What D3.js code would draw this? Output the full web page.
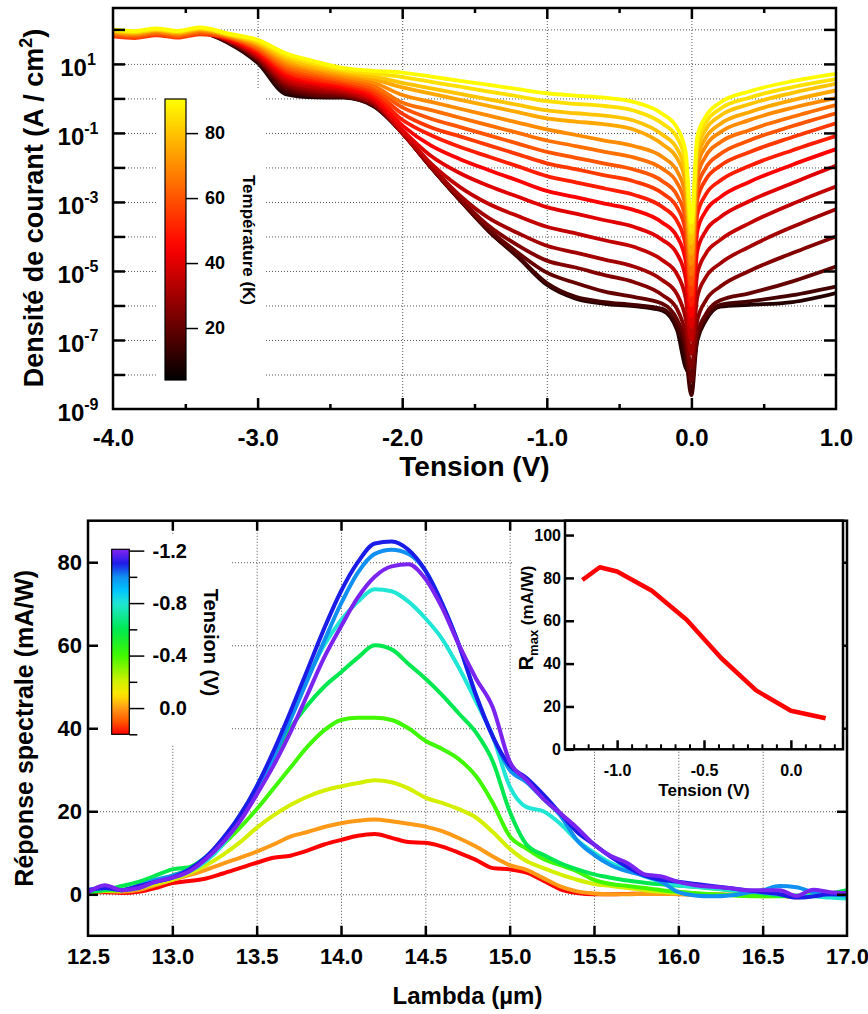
<!DOCTYPE html>
<html><head><meta charset="utf-8">
<script src="https://cdn.jsdelivr.net/npm/d3@7"></script>
<style>body{margin:0;background:#fff}svg{display:block}</style>
</head><body><svg id="chart" width="868" height="1014"></svg>
<script>
// ================= DATA : top panel (log10 of current density, A/cm2) =================
const voltages = [-4.0, -3.85, -3.7, -3.55, -3.4, -3.2, -3.0, -2.8, -2.6, -2.4, -2.2, -2.0, -1.8, -1.6, -1.4, -1.2, -1.0, -0.8, -0.6, -0.4, -0.2, -0.1, -0.04, 0, 0.04, 0.1, 0.2, 0.4, 0.7, 1.0];
const temperatures = [10, 15, 20, 25, 30, 35, 40, 45, 50, 55, 60, 65, 70, 75, 80, 85, 90];
const logJ_10 = [1.85, 1.80, 1.88, 1.81, 1.91, 1.60, 1.03, 0.12, 0.03, 0.02, -0.22, -1.00, -2.00, -2.95, -3.85, -4.60, -5.40, -5.80, -5.95, -6.02, -6.15, -6.70, -7.80, -8.0, -7.03, -6.43, -6.03, -5.98, -5.90, -5.64];
const logJ_15 = [1.85, 1.80, 1.88, 1.81, 1.91, 1.62, 1.08, 0.21, 0.07, 0.04, -0.21, -1.00, -2.00, -2.95, -3.85, -4.58, -5.35, -5.75, -5.90, -5.98, -6.10, -6.60, -7.40, -8.6, -6.98, -6.38, -5.98, -5.88, -5.70, -5.45];
const logJ_20 = [1.85, 1.80, 1.88, 1.81, 1.91, 1.64, 1.12, 0.30, 0.11, 0.06, -0.19, -1.00, -2.00, -2.95, -3.80, -4.47, -5.05, -5.35, -5.60, -5.75, -5.95, -6.40, -7.10, -8.2, -6.85, -6.25, -5.85, -5.65, -5.30, -4.87];
const logJ_25 = [1.85, 1.80, 1.88, 1.81, 1.91, 1.65, 1.16, 0.38, 0.18, 0.10, -0.16, -1.00, -2.00, -2.91, -3.70, -4.26, -4.70, -4.90, -5.12, -5.32, -5.70, -6.10, -6.80, -7.8, -6.45, -5.85, -5.45, -5.00, -4.48, -4.00];
const logJ_30 = [1.85, 1.80, 1.88, 1.81, 1.91, 1.67, 1.20, 0.45, 0.25, 0.15, -0.12, -1.00, -1.97, -2.82, -3.47, -3.90, -4.27, -4.47, -4.67, -4.87, -5.27, -5.67, -6.37, -7.4, -5.78, -5.18, -4.78, -4.30, -3.72, -3.21];
const logJ_35 = [1.85, 1.80, 1.88, 1.81, 1.91, 1.69, 1.24, 0.52, 0.32, 0.20, -0.07, -0.97, -1.89, -2.57, -3.06, -3.41, -3.72, -3.91, -4.11, -4.30, -4.69, -5.09, -5.79, -7.0, -5.10, -4.50, -4.10, -3.62, -3.05, -2.55];
const logJ_40 = [1.85, 1.80, 1.88, 1.81, 1.91, 1.70, 1.28, 0.60, 0.39, 0.26, -0.02, -0.91, -1.67, -2.17, -2.54, -2.85, -3.15, -3.34, -3.53, -3.72, -4.10, -4.50, -5.20, -6.6, -4.44, -3.84, -3.44, -2.98, -2.45, -1.95];
const logJ_45 = [1.85, 1.80, 1.88, 1.81, 1.91, 1.72, 1.33, 0.67, 0.46, 0.32, 0.05, -0.78, -1.37, -1.76, -2.08, -2.38, -2.68, -2.86, -3.05, -3.23, -3.60, -4.00, -4.70, -6.3, -3.86, -3.26, -2.86, -2.42, -1.92, -1.47];
const logJ_50 = [1.85, 1.80, 1.88, 1.81, 1.91, 1.74, 1.37, 0.74, 0.52, 0.38, 0.12, -0.62, -1.07, -1.41, -1.69, -1.97, -2.25, -2.43, -2.61, -2.79, -3.15, -3.55, -4.25, -6.0, -3.38, -2.78, -2.38, -1.96, -1.50, -1.09];
const logJ_55 = [1.80, 1.75, 1.83, 1.76, 1.86, 1.76, 1.41, 0.81, 0.59, 0.44, 0.20, -0.44, -0.84, -1.10, -1.36, -1.62, -1.88, -2.05, -2.23, -2.40, -2.75, -3.15, -3.85, -5.7, -2.95, -2.35, -1.95, -1.56, -1.12, -0.72];
const logJ_60 = [1.84, 1.79, 1.87, 1.80, 1.90, 1.77, 1.45, 0.88, 0.66, 0.50, 0.28, -0.26, -0.59, -0.83, -1.07, -1.31, -1.55, -1.72, -1.89, -2.06, -2.40, -2.80, -3.50, -5.4, -2.61, -2.01, -1.61, -1.22, -0.80, -0.43];
const logJ_65 = [1.88, 1.83, 1.91, 1.84, 1.94, 1.79, 1.49, 0.95, 0.73, 0.56, 0.37, -0.12, -0.34, -0.56, -0.78, -1.00, -1.22, -1.38, -1.55, -1.71, -2.04, -2.44, -3.14, -5.1, -2.27, -1.67, -1.27, -0.92, -0.53, -0.19];
const logJ_70 = [1.91, 1.86, 1.94, 1.87, 1.97, 1.81, 1.54, 1.02, 0.80, 0.63, 0.46, 0.10, -0.10, -0.30, -0.50, -0.70, -0.90, -1.06, -1.22, -1.38, -1.70, -2.10, -2.80, -4.8, -1.98, -1.38, -0.98, -0.63, -0.27, 0.01];
const logJ_75 = [1.94, 1.89, 1.97, 1.90, 2.00, 1.83, 1.58, 1.09, 0.86, 0.70, 0.55, 0.32, 0.14, -0.04, -0.22, -0.40, -0.58, -0.67, -0.75, -0.90, -1.33, -1.73, -2.43, -4.5, -1.74, -1.14, -0.74, -0.40, -0.05, 0.23];
const logJ_80 = [1.96, 1.91, 1.99, 1.92, 2.02, 1.84, 1.62, 1.16, 0.93, 0.76, 0.63, 0.45, 0.29, 0.13, -0.03, -0.19, -0.35, -0.43, -0.50, -0.64, -1.05, -1.45, -2.15, -4.2, -1.50, -0.90, -0.50, -0.17, 0.16, 0.42];
const logJ_85 = [1.98, 1.93, 2.01, 1.94, 2.04, 1.86, 1.66, 1.23, 1.00, 0.82, 0.72, 0.62, 0.48, 0.34, 0.20, 0.06, -0.08, -0.16, -0.22, -0.35, -0.73, -1.13, -1.83, -3.9, -1.30, -0.70, -0.30, 0.02, 0.33, 0.56];
const logJ_90 = [2.00, 1.95, 2.03, 1.96, 2.06, 1.88, 1.70, 1.30, 1.07, 0.88, 0.80, 0.75, 0.63, 0.51, 0.39, 0.27, 0.15, 0.08, 0.02, -0.10, -0.45, -0.85, -1.55, -3.6, -1.12, -0.52, -0.12, 0.20, 0.50, 0.71];
const seriesJ = [logJ_10, logJ_15, logJ_20, logJ_25, logJ_30, logJ_35, logJ_40, logJ_45, logJ_50, logJ_55, logJ_60, logJ_65, logJ_70, logJ_75, logJ_80, logJ_85, logJ_90];
const topXTicks = [-4, -3, -2, -1, 0, 1];
const topYLabelExp = [1, -1, -3, -5, -7, -9];
const tempTicks = [20, 40, 60, 80];

// ================= DATA : bottom panel (spectral response, mA/W) =================
const lambda = [12.5,12.6,12.7,12.8,12.9,13.0,13.1,13.2,13.3,13.4,13.5,13.6,13.7,13.8,13.9,14.0,14.1,14.2,14.3,14.4,14.5,14.6,14.7,14.8,14.9,15.0,15.1,15.2,15.3,15.4,15.5,15.6,15.7,15.8,15.9,16.0,16.1,16.2,16.3,16.4,16.5,16.6,16.7,16.8,16.9,17.0];
const tensions = [0.2, 0.0, -0.2, -0.4, -0.6, -0.8, -1.0, -1.1, -1.2];
const resp_p02 = [0.5,0.5,0.3,0.6,1.5,2.7,3.2,3.8,5.0,6.3, 7.6,8.8,9.3,10.5,12.0,13.1,14.1,14.5,13.6,12.6, 12.4,11.5,10.0,8.3,6.3,6.0,5.2,3.3,1.2,0.3, 0.0,0.0,0.1,0.2,0.2,0.1,0.0,0.0,-0.1,-0.1, -0.2,-0.3,-0.7,-0.4,-0.2,0.0];
const resp_000 = [0.6,0.8,0.6,1.0,2.2,3.5,4.6,5.9,7.4,8.8, 10.3,12.0,13.9,15.0,16.2,17.1,17.7,18.0,17.6,17.0, 16.3,15.2,13.5,11.5,9.1,7.0,5.9,3.9,1.9,0.7, 0.2,0.0,0.0,0.1,0.1,0.0,-0.1,-0.1,-0.2,-0.2, -0.3,-0.4,-0.5,-0.3,-0.2,-0.1];
const resp_m02 = [0.5,0.8,1.0,1.5,2.5,3.5,5.0,7.0,9.5,12.5, 16.0,19.0,21.5,23.5,25.0,26.0,26.8,27.5,27.0,25.5, 23.3,22.0,20.5,18.5,15.0,11.0,8.0,6.3,4.8,3.5, 2.5,2.0,1.5,1.0,0.6,0.3,0.1,0.0,-0.1,-0.3, -0.5,-0.4,-0.3,-0.2,-0.1,0.0];
const resp_m04 = [1.0,1.0,1.0,2.0,3.0,4.5,6.0,8.5,12.0,16.0, 20.5,25.5,30.5,35.5,39.5,42.0,42.5,42.5,42.0,40.0, 37.0,35.0,32.5,28.5,22.0,14.0,11.0,8.5,7.0,5.5, 3.5,2.5,2.0,1.5,1.0,0.6,0.3,0.0,-0.2,-0.4, -0.5,-0.5,-0.4,-0.2,0.0,0.3];
const resp_m06 = [0.5,1.0,2.0,3.0,4.5,6.0,6.5,9.0,13.0,19.0, 25.5,33.0,40.0,45.5,50.0,53.5,57.0,60.0,59.0,55.5, 52.0,48.0,43.5,39.0,32.0,20.0,12.0,9.5,7.5,6.0, 4.8,4.0,3.3,2.8,2.4,2.1,1.8,1.4,1.0,0.6, 0.2,-0.3,-0.5,-0.3,0.2,1.0];
const resp_m08 = [1.0,1.5,1.0,1.5,3.0,4.0,5.5,8.0,12.0,18.0, 26.0,34.0,43.0,52.0,60.0,66.0,70.5,73.5,73.0,70.5, 66.5,61.5,54.5,46.5,38.0,26.0,21.0,20.0,17.0,13.0, 10.0,7.5,6.0,4.3,3.0,2.2,1.8,1.5,1.1,0.8, 0.4,0.0,-0.3,-0.5,-0.8,-1.0];
const resp_m10 = [1.0,1.5,1.0,2.0,3.5,4.5,6.0,9.0,13.0,18.5, 25.0,33.0,42.0,51.5,61.0,70.0,77.5,82.0,83.0,82.0, 78.0,70.0,60.0,48.0,38.0,30.0,27.0,23.0,19.0,13.0, 9.5,7.0,5.5,4.5,3.0,0.5,-0.3,-0.5,-0.3,0.3, 1.0,2.0,1.7,0.5,0.0,-0.3];
const resp_m11 = [1.0,1.5,1.0,2.0,3.0,4.0,6.0,9.0,13.5,19.0, 26.0,34.5,44.0,54.0,64.0,73.0,80.0,84.5,85.0,83.0, 78.0,70.0,60.0,48.0,38.0,31.0,28.0,24.0,19.5,15.0, 12.0,9.0,6.5,4.5,3.5,3.0,2.5,2.0,1.5,1.0, 0.5,0.0,-0.8,-0.5,0.0,0.0];
const resp_m12 = [0.5,2.2,1.0,1.5,3.0,4.0,5.5,8.5,12.5,17.5, 24.0,31.0,39.0,48.0,57.0,64.5,71.5,76.5,79.0,79.5, 76.0,69.0,60.0,52.0,45.0,32.0,27.5,23.0,19.5,16.0, 12.0,9.2,7.5,4.8,4.3,3.0,2.2,1.8,1.5,1.0, 1.0,1.0,-0.4,1.1,0.5,0.3];
const seriesR = [resp_p02, resp_000, resp_m02, resp_m04, resp_m06, resp_m08, resp_m10, resp_m11, resp_m12];
const lambdaTicks = [12.5,13.0,13.5,14.0,14.5,15.0,15.5,16.0,16.5,17.0];
const respTicks = [0, 20, 40, 60, 80];
const tensionMajor = [-1.2, -0.8, -0.4, 0.0];
const tensionMinor = [-1.0, -0.6, -0.2, 0.2];

// inset
const insetTension = [-1.2, -1.1, -1.0, -0.8, -0.6, -0.4, -0.2, 0.0, 0.2];
const insetRmax = [79, 85, 83, 74, 60.5, 42.5, 27.5, 18, 14.5];
const insetYTicks = [0, 20, 40, 60, 80, 100];
const insetXMajor = [-1.0, -0.5, 0.0];
const insetXMinor = [-1.25, -1.1667, -1.0833, -0.9167, -0.8333, -0.75, -0.6667, -0.5833, -0.4167, -0.3333, -0.25, -0.1667, -0.0833, 0.0833, 0.1667, 0.25];

// ================= DRAWING =================
const FONT = "'Liberation Sans', Arial, Helvetica, sans-serif";
const svg = d3.select("#chart");
svg.append("rect").attr("width", 868).attr("height", 1014).attr("fill", "#fff");
const defs = svg.append("defs");

function dotted(sel) { sel.attr("stroke", "#555").attr("stroke-width", 1).attr("stroke-dasharray", "1,2"); }
function tickStyle(g, w) { g.select(".domain").remove(); g.selectAll("line").attr("stroke", "#000").attr("stroke-width", w || 2.5); }
function labelStyle(g, size) { g.select(".domain").remove(); g.attr("font-family", FONT).attr("font-size", size).attr("font-weight", "bold"); g.selectAll("text").attr("fill", "#000"); }
const fmt1 = d => d.toFixed(1);

// ---------- TOP PANEL ----------
const TP = {l: 113, r: 836, t: 8, b: 409};
const xT = d3.scaleLinear().domain([-4, 1]).range([TP.l, TP.r]);
const yT = d3.scaleLog().domain([1e-9, Math.pow(10, 2.62)]).range([TP.b, TP.t]);
const hot = d3.scaleLinear().domain([4, 45, 90.5]).range(["#000000", "#ff0000", "#ffff00"]).clamp(true);
const gT = svg.append("g");
const decades = [-8, -7, -6, -5, -4, -3, -2, -1, 0, 1, 2].map(e => Math.pow(10, e));

gT.append("g").attr("transform", `translate(0,${TP.b})`)
  .call(d3.axisBottom(xT).tickValues([-3, -2, -1, 0]).tickSize(-(TP.b - TP.t)).tickFormat(""))
  .call(g => { g.select(".domain").remove(); g.selectAll("line").call(dotted); });
gT.append("g").attr("transform", `translate(${TP.l},0)`)
  .call(d3.axisLeft(yT).tickValues(decades).tickSize(-(TP.r - TP.l)).tickFormat(""))
  .call(g => { g.select(".domain").remove(); g.selectAll("line").call(dotted); });
// white box behind colour bar
gT.append("rect").attr("x", 158).attr("y", 88).attr("width", 108).attr("height", 309).attr("fill", "#fff");

defs.append("clipPath").attr("id", "clipT").append("rect")
  .attr("x", TP.l).attr("y", TP.t).attr("width", TP.r - TP.l).attr("height", TP.b - TP.t);
const lineT = d3.line().x((d, i) => xT(voltages[i])).y(d => yT(Math.pow(10, d))).curve(d3.curveMonotoneX);
gT.append("g").attr("clip-path", "url(#clipT)").selectAll("path").data(seriesJ).join("path")
  .attr("d", lineT).attr("fill", "none").attr("stroke", (d, i) => hot(temperatures[i]))
  .attr("stroke-width", 3.8).attr("stroke-linejoin", "round").attr("stroke-linecap", "round");

// ticks
gT.append("g").attr("transform", `translate(0,${TP.b})`).call(d3.axisBottom(xT).tickValues([-3, -2, -1, 0]).tickSize(-11).tickFormat("")).call(tickStyle);
gT.append("g").attr("transform", `translate(0,${TP.b})`).call(d3.axisBottom(xT).tickValues([-3.5, -2.5, -1.5, -0.5, 0.5]).tickSize(-5).tickFormat("")).call(tickStyle);
gT.append("g").attr("transform", `translate(0,${TP.t})`).call(d3.axisTop(xT).tickValues([-3, -2, -1, 0]).tickSize(-11).tickFormat("")).call(tickStyle);
gT.append("g").attr("transform", `translate(0,${TP.t})`).call(d3.axisTop(xT).tickValues([-3.5, -2.5, -1.5, -0.5, 0.5]).tickSize(-5).tickFormat("")).call(tickStyle);
gT.append("g").attr("transform", `translate(${TP.l},0)`).call(d3.axisLeft(yT).tickValues(decades).tickSize(-12).tickFormat("")).call(tickStyle);
gT.append("g").attr("transform", `translate(${TP.r},0)`).call(d3.axisRight(yT).tickValues(decades).tickSize(-12).tickFormat("")).call(tickStyle);
gT.append("rect").attr("x", TP.l).attr("y", TP.t).attr("width", TP.r - TP.l).attr("height", TP.b - TP.t)
  .attr("fill", "none").attr("stroke", "#000").attr("stroke-width", 2.5);

// labels
gT.append("g").attr("transform", `translate(0,${TP.b})`)
  .call(d3.axisBottom(xT).tickValues(topXTicks).tickSize(0).tickPadding(20).tickFormat(fmt1))
  .call(g => labelStyle(g, 24));
gT.append("g").selectAll("text").data(topYLabelExp).join("text")
  .attr("x", 78).attr("y", e => yT(Math.pow(10, e)) + 12).attr("text-anchor", "middle")
  .attr("font-family", FONT).attr("font-weight", "bold").attr("font-size", 24)
  .each(function (e) {
    const t = d3.select(this);
    t.append("tspan").text("10");
    t.append("tspan").attr("dy", -11).attr("font-size", 16).text(String(e));
  });
const yTitle = gT.append("text").attr("transform", "translate(43,208) rotate(-90)").attr("text-anchor", "middle")
  .attr("font-family", FONT).attr("font-weight", "bold").attr("font-size", 27);
yTitle.append("tspan").text("Densité de courant (A / cm");
yTitle.append("tspan").attr("dy", -11).attr("font-size", 18).text("2");
yTitle.append("tspan").attr("dy", 11).text(")");
gT.append("text").attr("x", (TP.l + TP.r) / 2).attr("y", 476).attr("text-anchor", "middle")
  .attr("font-family", FONT).attr("font-weight", "bold").attr("font-size", 28).text("Tension (V)");

// colour bar (temperature)
const yCBt = d3.scaleLinear().domain([4, 90.5]).range([380, 99]);
const gradT = defs.append("linearGradient").attr("id", "gradHot").attr("x1", 0).attr("y1", 1).attr("x2", 0).attr("y2", 0);
d3.range(0, 1.0001, 0.05).forEach(o => gradT.append("stop").attr("offset", o).attr("stop-color", hot(4 + o * 86.5)));
gT.append("rect").attr("x", 165).attr("y", 99).attr("width", 21).attr("height", 281)
  .attr("fill", "url(#gradHot)").attr("stroke", "#000").attr("stroke-width", 1.2);
gT.append("g").attr("transform", "translate(186,0)")
  .call(d3.axisRight(yCBt).tickValues(tempTicks).tickSize(12).tickPadding(7))
  .call(g => { labelStyle(g, 18); g.selectAll("line").attr("stroke", "#000").attr("stroke-width", 1.5); });
gT.append("text").attr("transform", "translate(243,240) rotate(90)").attr("text-anchor", "middle")
  .attr("font-family", FONT).attr("font-weight", "bold").attr("font-size", 17).text("Température (K)");

// ---------- BOTTOM PANEL ----------
const BP = {l: 88, r: 847, t: 520.7, b: 935.8};
const xB = d3.scaleLinear().domain([12.5, 17]).range([BP.l, BP.r]);
const yB = d3.scaleLinear().domain([-10, 90]).range([BP.b, BP.t]);
const rb = d3.scaleLinear()
  .domain([0.2, 0.1, 0.0, -0.1, -0.2, -0.4, -0.6, -0.8, -0.9, -1.0, -1.1, -1.21])
  .range(["#ff0000", "#ff5a00", "#ff9a18", "#ffe600", "#d4f000", "#40f800", "#00e850", "#20e6d6", "#00c4ff", "#1090f0", "#1c1ce8", "#8424f0"]);
const gB = svg.append("g");
const innerL = [13.0, 13.5, 14.0, 14.5, 15.0, 15.5, 16.0, 16.5];

gB.append("g").attr("transform", `translate(0,${BP.b})`)
  .call(d3.axisBottom(xB).tickValues(innerL).tickSize(-(BP.b - BP.t)).tickFormat(""))
  .call(g => { g.select(".domain").remove(); g.selectAll("line").call(dotted); });
gB.append("g").attr("transform", `translate(${BP.l},0)`)
  .call(d3.axisLeft(yB).tickValues(respTicks).tickSize(-(BP.r - BP.l)).tickFormat(""))
  .call(g => { g.select(".domain").remove(); g.selectAll("line").call(dotted); });
gB.append("rect").attr("x", 95).attr("y", 535).attr("width", 135).attr("height", 210).attr("fill", "#fff");

defs.append("clipPath").attr("id", "clipB").append("rect")
  .attr("x", BP.l).attr("y", BP.t).attr("width", BP.r - BP.l).attr("height", BP.b - BP.t);
const lineB = d3.line().x((d, i) => xB(lambda[i])).y(d => yB(d)).curve(d3.curveMonotoneX);
gB.append("g").attr("clip-path", "url(#clipB)").selectAll("path").data(seriesR).join("path")
  .attr("d", lineB).attr("fill", "none").attr("stroke", (d, i) => rb(tensions[i]))
  .attr("stroke-width", 4).attr("stroke-linejoin", "round").attr("stroke-linecap", "round");

gB.append("g").attr("transform", `translate(0,${BP.b})`).call(d3.axisBottom(xB).tickValues(innerL).tickSize(-10).tickFormat("")).call(tickStyle);
gB.append("g").attr("transform", `translate(0,${BP.t})`).call(d3.axisTop(xB).tickValues(innerL).tickSize(-10).tickFormat("")).call(tickStyle);
gB.append("g").attr("transform", `translate(${BP.l},0)`).call(d3.axisLeft(yB).tickValues(respTicks).tickSize(-10).tickFormat("")).call(tickStyle);
gB.append("g").attr("transform", `translate(${BP.r},0)`).call(d3.axisRight(yB).tickValues(respTicks).tickSize(-10).tickFormat("")).call(tickStyle);
gB.append("rect").attr("x", BP.l).attr("y", BP.t).attr("width", BP.r - BP.l).attr("height", BP.b - BP.t)
  .attr("fill", "none").attr("stroke", "#000").attr("stroke-width", 2.5);

gB.append("g").attr("transform", `translate(0,${BP.b})`)
  .call(d3.axisBottom(xB).tickValues(lambdaTicks).tickSize(0).tickPadding(13).tickFormat(fmt1))
  .call(g => labelStyle(g, 22));
gB.append("g").attr("transform", `translate(${BP.l},0)`)
  .call(d3.axisLeft(yB).tickValues(respTicks).tickSize(0).tickPadding(6))
  .call(g => labelStyle(g, 22));
gB.append("text").attr("x", (BP.l + BP.r) / 2).attr("y", 1004).attr("text-anchor", "middle")
  .attr("font-family", FONT).attr("font-weight", "bold").attr("font-size", 24).text("Lambda (µm)");
gB.append("text").attr("transform", `translate(33,${(BP.t + BP.b) / 2}) rotate(-90)`).attr("text-anchor", "middle")
  .attr("font-family", FONT).attr("font-weight", "bold").attr("font-size", 25).text("Réponse spectrale (mA/W)");

// ---------- INSET ----------
const IP = {l: 565, r: 843, t: 520.7, b: 749.3};
const xI = d3.scaleLinear().domain([-1.3, 0.3]).range([IP.l, IP.r]);
const yI = d3.scaleLinear().domain([0, 106.7]).range([IP.b, IP.t]);
const gI = svg.append("g");
gI.append("rect").attr("x", 512).attr("y", 522).attr("width", IP.r - 512).attr("height", 220).attr("fill", "#fff");
gI.append("rect").attr("x", IP.l).attr("y", IP.t).attr("width", IP.r - IP.l).attr("height", IP.b - IP.t).attr("fill", "#fff");
gI.append("path").datum(insetRmax)
  .attr("d", d3.line().x((d, i) => xI(insetTension[i])).y(d => yI(d)))
  .attr("fill", "none").attr("stroke", "#ff0000").attr("stroke-width", 4.5).attr("stroke-linejoin", "round");
gI.append("g").attr("transform", `translate(${IP.l},0)`).call(d3.axisLeft(yI).tickValues(insetYTicks).tickSize(-9).tickFormat("")).call(tickStyle);
gI.append("g").attr("transform", `translate(0,${IP.b})`).call(d3.axisBottom(xI).tickValues(insetXMajor).tickSize(-9).tickFormat("")).call(tickStyle);
gI.append("g").attr("transform", `translate(0,${IP.b})`).call(d3.axisBottom(xI).tickValues(insetXMinor).tickSize(-5).tickFormat("")).call(g => tickStyle(g, 2));
gI.append("rect").attr("x", IP.l).attr("y", IP.t).attr("width", IP.r - IP.l).attr("height", IP.b - IP.t)
  .attr("fill", "none").attr("stroke", "#000").attr("stroke-width", 2.5);
gI.append("g").attr("transform", `translate(${IP.l},0)`)
  .call(d3.axisLeft(yI).tickValues(insetYTicks).tickSize(0).tickPadding(4))
  .call(g => labelStyle(g, 16));
gI.append("g").attr("transform", `translate(0,${IP.b})`)
  .call(d3.axisBottom(xI).tickValues(insetXMajor).tickSize(0).tickPadding(15).tickFormat(fmt1))
  .call(g => labelStyle(g, 16));
gI.append("text").attr("x", (IP.l + IP.r) / 2).attr("y", 796).attr("text-anchor", "middle")
  .attr("font-family", FONT).attr("font-weight", "bold").attr("font-size", 17).text("Tension (V)");
const rl = gI.append("text").attr("transform", "translate(533,618) rotate(-90)").attr("text-anchor", "middle")
  .attr("font-family", FONT).attr("font-weight", "bold").attr("font-size", 20);
rl.append("tspan").text("R");
rl.append("tspan").attr("dy", 5).attr("font-size", 13).text("max");
rl.append("tspan").attr("dy", -5).attr("font-size", 17).text(" (mA/W)");

// ---------- colour bar (tension) ----------
const yCB = d3.scaleLinear().domain([0.2, -1.21]).range([734.3, 549.3]);
const gradB = defs.append("linearGradient").attr("id", "gradRb").attr("x1", 0).attr("y1", 1).attr("x2", 0).attr("y2", 0);
d3.range(0, 1.0001, 0.025).forEach(o => gradB.append("stop").attr("offset", o).attr("stop-color", rb(0.2 - o * 1.41)));
gB.append("rect").attr("x", 111.7).attr("y", 549.3).attr("width", 17.6).attr("height", 185)
  .attr("fill", "url(#gradRb)").attr("stroke", "#000").attr("stroke-width", 1.2);
gB.append("g").attr("transform", "translate(129.3,0)")
  .call(d3.axisRight(yCB).tickValues(tensionMajor).tickSize(15).tickFormat(fmt1))
  .call(g => { labelStyle(g, 20); g.selectAll("line").attr("stroke", "#000").attr("stroke-width", 1.5);
               g.selectAll("text").attr("x", 57.7).attr("text-anchor", "end"); });
gB.append("g").attr("transform", "translate(129.3,0)")
  .call(d3.axisRight(yCB).tickValues(tensionMinor).tickSize(8).tickFormat(""))
  .call(g => tickStyle(g, 1.5));
gB.append("text").attr("transform", "translate(204,642.5) rotate(90)").attr("text-anchor", "middle")
  .attr("font-family", FONT).attr("font-weight", "bold").attr("font-size", 20).text("Tension (V)");
</script></body></html>
